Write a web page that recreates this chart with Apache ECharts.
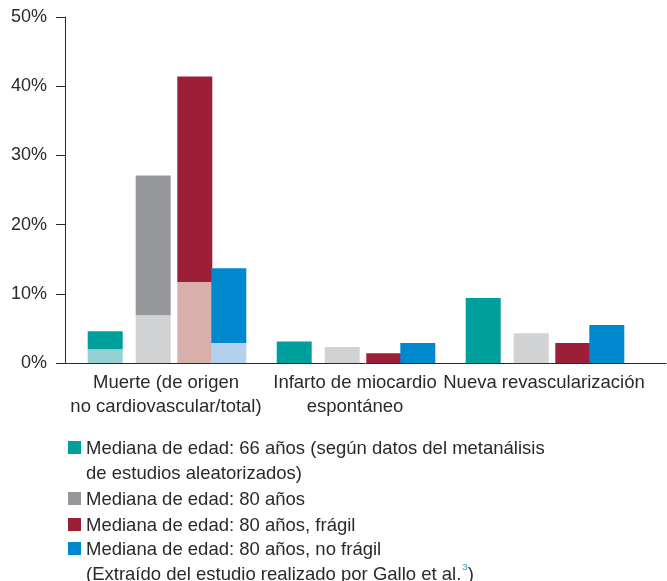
<!DOCTYPE html>
<html>
<head>
<meta charset="utf-8">
<script src="https://cdn.jsdelivr.net/npm/echarts@6/dist/echarts.min.js"></script>
<style>
  html, body { margin: 0; padding: 0; background: #ffffff; }
  #chart { width: 667px; height: 581px; }
</style>
</head>
<body>
<div id="chart"></div>
<script>
// ---- Data ----
const categories = [
  'Muerte (de origen\nno cardiovascular/total)',
  'Infarto de miocardio\nespontáneo',
  'Nueva revascularización'
];
const seriesNames = [
  'Mediana de edad: 66 años (según datos del metanálisis de estudios aleatorizados)',
  'Mediana de edad: 80 años',
  'Mediana de edad: 80 años, frágil',
  'Mediana de edad: 80 años, no frágil'
];
const legendLabels = [
  'Mediana de edad: 66 años (según datos del metanálisis\nde estudios aleatorizados)',
  'Mediana de edad: 80 años',
  'Mediana de edad: 80 años, frágil',
  'Mediana de edad: 80 años, no frágil\n(Extraído del estudio realizado por Gallo et al.{sup|3})'
];
// total values (%) per category
const total66 = [4.6, 3.1, 9.4];
const total80 = [27.1, 2.3, 4.3];
const total80Fragil = [41.4, 1.4, 2.9];
const total80NoFragil = [13.7, 2.9, 5.5];
// non-cardiovascular part of mortality (%), only for the first category
const nonCV66 = [2.0, null, null];
const nonCV80 = [6.9, null, null];
const nonCV80Fragil = [11.7, null, null];
const nonCV80NoFragil = [2.9, null, null];
const yTickValues = [0, 10, 20, 30, 40, 50];

// ---- Styles ----
const textColor = '#2a2a2a';
const fontFamily = '"Liberation Sans", Arial, Helvetica, sans-serif';
const darkColors = ['#009f9b', '#96979b', '#9c1f37', '#0089cf'];
const lightColors = ['#97d0d1', '#d1d2d4', '#d9afab', '#b4d2ef'];
// gray series uses the light tone outside the mortality category
const altColors = [null, '#d1d2d4', null, null];

const totals = [total66, total80, total80Fragil, total80NoFragil];
const nonCVs = [nonCV66, nonCV80, nonCV80Fragil, nonCV80NoFragil];

const gridTop = 17;
const gridBottom = 218;
const band = 189;
const bandWidth = band * categories.length;
const seriesGridLeft = [10.7, 58.7, 100.3, 134.3];

const grids = [
  { left: 65, right: 1, top: gridTop, bottom: gridBottom, outerBoundsMode: 'none' },            // axes
  { left: 71.5, width: bandWidth, top: gridTop, bottom: gridBottom, outerBoundsMode: 'none' }   // category labels
];
seriesGridLeft.forEach(l => grids.push({ left: l, width: bandWidth, top: gridTop, bottom: gridBottom, outerBoundsMode: 'none' }));

const yMin = yTickValues[0], yMax = yTickValues[yTickValues.length - 1];
const yInterval = yTickValues[1] - yTickValues[0];

const xAxes = [
  {
    gridIndex: 0, type: 'category', data: categories,
    axisLine: { show: true, lineStyle: { color: '#2a2a2a', width: 1 } },
    axisTick: { show: false }, axisLabel: { show: false }
  },
  {
    gridIndex: 1, type: 'category', data: categories,
    axisLine: { show: false }, axisTick: { show: false },
    axisLabel: {
      show: true, interval: 0, margin: 8,
      color: textColor, fontFamily: fontFamily, fontSize: 18.5, lineHeight: 24
    }
  }
];
const yAxes = [
  {
    gridIndex: 0, type: 'value', min: yMin, max: yMax, interval: yInterval,
    axisLine: { show: true, lineStyle: { color: '#2a2a2a', width: 1 } },
    axisTick: { show: true, length: 9, lineStyle: { color: '#2a2a2a' } },
    splitLine: { show: false },
    axisLabel: {
      formatter: '{value}%', margin: 18,
      color: textColor, fontFamily: fontFamily, fontSize: 18
    }
  },
  { gridIndex: 1, type: 'value', min: yMin, max: yMax, show: false }
];
for (let k = 0; k < 4; k++) {
  xAxes.push({ gridIndex: k + 2, type: 'category', data: categories, show: false });
  yAxes.push({ gridIndex: k + 2, type: 'value', min: yMin, max: yMax, show: false });
}

const series = [];
for (let k = 0; k < 4; k++) {
  const bottomPart = nonCVs[k];
  const topPart = totals[k].map((t, i) => {
    const v = bottomPart[i] == null ? t : +(t - bottomPart[i]).toFixed(2);
    if (i > 0 && altColors[k]) return { value: v, itemStyle: { color: altColors[k] } };
    return v;
  });
  series.push({
    name: seriesNames[k] + ' (no cardiovascular)',
    type: 'bar', xAxisIndex: k + 2, yAxisIndex: k + 2,
    stack: 's' + k, barWidth: 35,
    itemStyle: { color: lightColors[k] },
    data: bottomPart
  });
  series.push({
    name: seriesNames[k],
    type: 'bar', xAxisIndex: k + 2, yAxisIndex: k + 2,
    stack: 's' + k, barWidth: 35,
    itemStyle: { color: darkColors[k] },
    data: topPart
  });
}

// legend: one block per series (two-line items padded so the icon sits on the first line)
const legendIconTops = [441, 492, 518, 542];
const twoLine = legendLabels.map(s => s.indexOf('\n') >= 0);
const legends = seriesNames.map((name, k) => ({
  show: true,
  selectedMode: false,
  orient: 'vertical',
  left: 68,
  top: legendIconTops[k] - (twoLine[k] ? 32 : 7),
  padding: 0,
  itemWidth: 13, itemHeight: 13, itemGap: 0,
  icon: 'rect',
  data: [name],
  formatter: () => legendLabels[k],
  textStyle: {
    color: textColor, fontFamily: fontFamily, fontSize: 18.5, lineHeight: 25,
    padding: twoLine[k] ? [27, 0, 0, 0] : [2, 0, 0, 0],
    rich: {
      sup: { fontSize: 9.5, lineHeight: 11, color: '#2aa7b4', verticalAlign: 'top', padding: [0, 0, 0, 1] }
    }
  }
}));

const chart = echarts.init(document.getElementById('chart'), null, { renderer: 'canvas' });
chart.setOption({
  animation: false,
  backgroundColor: '#ffffff',
  textStyle: { fontFamily: fontFamily },
  grid: grids,
  xAxis: xAxes,
  yAxis: yAxes,
  legend: legends,
  series: series
});
</script>
</body>
</html>
